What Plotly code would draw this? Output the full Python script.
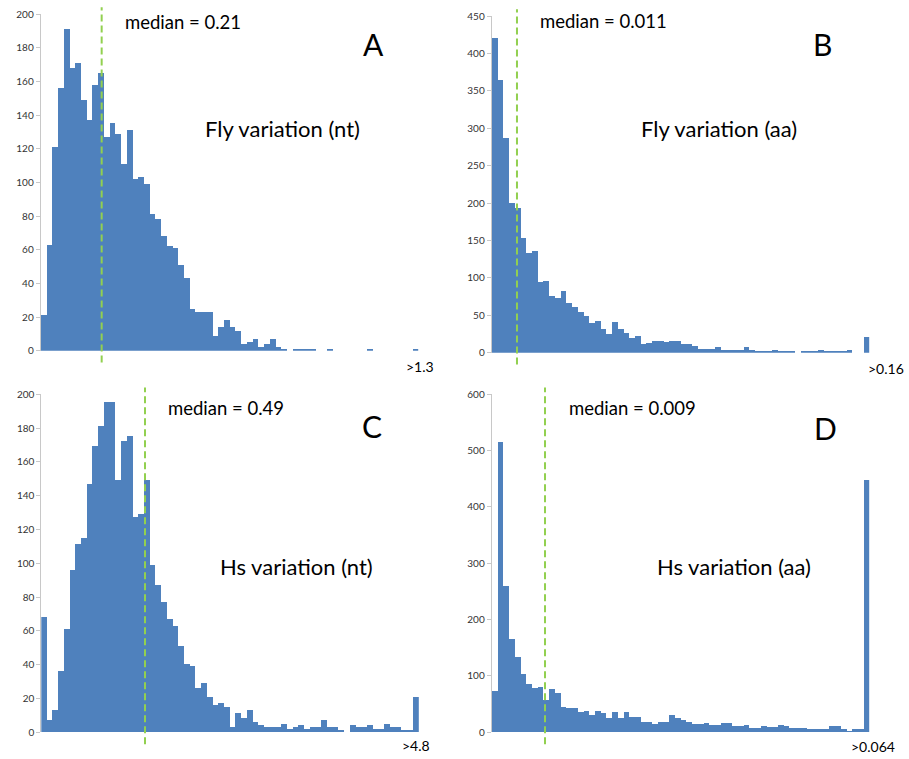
import plotly.graph_objects as go

# =========================================================
# Data (bin counts, 66 bins each,
# last bin is the overflow bin)
# =========================================================
fly_nt = [21, 63, 121, 156, 191, 168, 171, 149, 137, 158, 165, 127, 135, 129, 111, 131,
          102, 103, 99, 81, 78, 68, 62, 61, 51, 43, 25, 23, 23, 23, 9, 14, 18,
          14, 12, 4, 5, 7, 2, 4, 7, 2, 1, 0, 1, 1, 1, 1, 0, 0, 1,
          0, 0, 0, 0, 0, 0, 1, 0, 0, 0, 0, 0, 0, 0, 1]

fly_aa = [420, 365, 287, 200, 193, 153, 133, 136, 95, 96, 76, 73, 83, 66, 61, 55,
          49, 40, 43, 32, 25, 41, 32, 27, 20, 22, 11, 13, 16, 15, 14, 15, 15,
          12, 11, 9, 5, 5, 5, 8, 4, 4, 4, 4, 7, 4, 2, 1, 2, 4, 1,
          2, 1, 0, 2, 1, 1, 3, 2, 1, 2, 2, 3, 0, 0, 21]

hs_nt = [68, 7, 13, 36, 61, 96, 111, 115, 147, 169, 181, 195, 195, 149, 172, 175,
         127, 129, 149, 99, 87, 77, 67, 63, 51, 40, 39, 26, 29, 21, 16, 17, 15,
         3, 11, 8, 13, 6, 4, 3, 3, 3, 5, 2, 3, 4, 2, 3, 3, 7, 3,
         3, 1, 0, 4, 3, 3, 4, 2, 2, 5, 3, 3, 1, 1, 21]

hs_aa = [73, 515, 260, 165, 133, 103, 85, 79, 80, 57, 76, 70, 44, 42, 42, 35,
         37, 30, 37, 34, 25, 35, 24, 36, 26, 26, 18, 17, 15, 17, 18, 30, 24,
         21, 17, 14, 14, 16, 13, 13, 16, 16, 10, 10, 13, 7, 7, 10, 9, 9, 13,
         10, 7, 7, 7, 5, 5, 5, 5, 10, 10, 5, 1, 6, 6, 447]

counts = [fly_nt, fly_aa, hs_nt, hs_aa]
panel_letters = ["A", "B", "C", "D"]
panel_titles = ["Fly variation (nt)", "Fly variation (aa)", "Hs variation (nt)", "Hs variation (aa)"]
median_labels = ["median = 0.21", "median = 0.011", "median = 0.49", "median = 0.009"]
median_bin = [10.16, 3.92, 17.63, 8.82]   # median position in bin units
overflow_labels = [">1.3", ">0.16", ">4.8", ">0.064"]
y_max = [200, 450, 200, 600]
y_step = [20, 50, 20, 100]

# =========================================================
# Layout helpers (pixels -> paper)
# =========================================================
W, H = 909, 759


def px(x):
    return x / W


def py(y):
    return 1 - y / H


# plot boxes in pixels: left, right, top, bottom
boxes = [
    (40.7, 418.2, 14.0, 350.7),
    (491.7, 869.2, 16.0, 352.7),
    (41.3, 418.8, 394.3, 732.3),
    (491.7, 869.2, 394.3, 732.3),
]
# text positions in pixels
median_xy = [(123, 22), (538, 21), (166, 408), (567, 408)]
letter_xy = [(373, 44), (822, 44), (372, 426), (825, 428)]
title_xy = [(203, 128), (639, 128), (218, 566), (655, 566)]
overflow_xy = [(420, 366), (886, 368), (416, 745), (873, 746)]

BLUE = "#4F81BD"
GREEN = "#92D050"
FONT = "Lato"

fig = go.Figure()
annotations = []
shapes = []

for i in range(4):
    n = "" if i == 0 else str(i + 1)
    left, right, top, bottom = boxes[i]
    bins = list(range(len(counts[i])))

    fig.add_trace(go.Bar(
        x=bins, y=counts[i],
        marker=dict(color=BLUE, line=dict(width=0)),
        xaxis="x" + n, yaxis="y" + n,
        showlegend=False, hoverinfo="y",
    ))

    fig.update_layout(**{
        "xaxis" + n: dict(
            domain=[px(left), px(right)], anchor="y" + n,
            range=[-0.5, len(bins) - 0.5], visible=False,
            automargin=False,
        ),
        "yaxis" + n: dict(
            domain=[py(bottom), py(top)], anchor="x" + n,
            range=[0, y_max[i]], dtick=y_step[i], tick0=0,
            showgrid=False, zeroline=False,
            showline=True, linecolor="#C8C8C8", linewidth=1,
            ticks="outside", ticklen=4, tickcolor="#C8C8C8",
            tickfont=dict(family=FONT, size=10, color="#333333"),
            automargin=False,
        ),
    })

    # median line
    shapes.append(dict(
        type="line", xref="x" + n, yref="y" + n + " domain",
        x0=median_bin[i], x1=median_bin[i], y0=-0.035, y1=1.02,
        line=dict(color=GREEN, width=2, dash="7px,4px"),
    ))

    annotations.append(dict(
        text=median_labels[i], xref="paper", yref="paper",
        x=px(median_xy[i][0]), y=py(median_xy[i][1]),
        xanchor="left", yanchor="middle", showarrow=False,
        font=dict(family=FONT, size=18.5, color="black"),
    ))
    annotations.append(dict(
        text=panel_letters[i], xref="paper", yref="paper",
        x=px(letter_xy[i][0]), y=py(letter_xy[i][1]),
        xanchor="center", yanchor="middle", showarrow=False,
        font=dict(family=FONT, size=30, color="black"),
    ))
    annotations.append(dict(
        text=panel_titles[i], xref="paper", yref="paper",
        x=px(title_xy[i][0]), y=py(title_xy[i][1]),
        xanchor="left", yanchor="middle", showarrow=False,
        font=dict(family=FONT, size=22, color="black"),
    ))
    annotations.append(dict(
        text=overflow_labels[i], xref="paper", yref="paper",
        x=px(overflow_xy[i][0]), y=py(overflow_xy[i][1]),
        xanchor="center", yanchor="middle", showarrow=False,
        font=dict(family=FONT, size=14, color="black"),
    ))

fig.update_layout(
    width=W, height=H,
    margin=dict(l=0, r=0, t=0, b=0, pad=0, autoexpand=False),
    paper_bgcolor="white", plot_bgcolor="white",
    bargap=0,
    shapes=shapes,
    annotations=annotations,
)

# page body margin would shift the figure by 8px
fig.write_html(
    "out.html",
    config={"displayModeBar": False},
    post_script="document.body.style.margin='0';",
)
